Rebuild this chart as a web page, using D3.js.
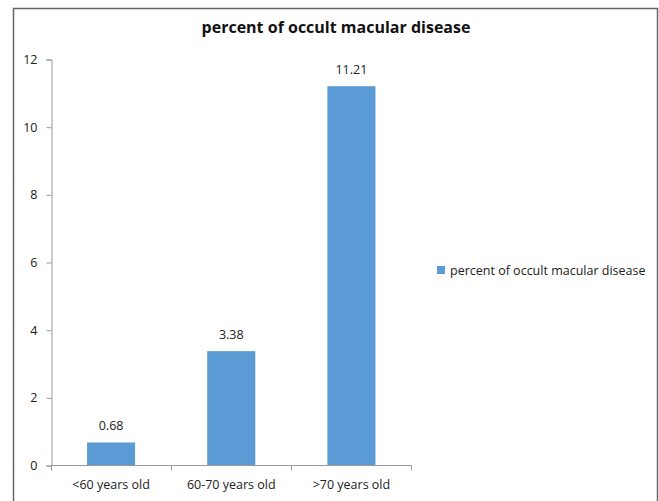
<!DOCTYPE html>
<html><head><meta charset="utf-8">
<script src="https://cdn.jsdelivr.net/npm/d3@7"></script>
<style>body{margin:0;background:#fff}svg{display:block}text{font-family:"Open Sans",sans-serif}</style>
</head><body>
<script>
const categories = ["<60 years old", "60-70 years old", ">70 years old"];
const values = [0.68, 3.38, 11.21];
const yTicks = [0, 2, 4, 6, 8, 10, 12];
const title = "percent of occult macular disease";
const seriesName = "percent of occult macular disease";

const W = 659, H = 501;
const svg = d3.select("body").append("svg").attr("width", W).attr("height", H);

// outer frame
svg.append("path").attr("d", "M13.5,501 V8.5 H657.5 V501")
  .attr("fill", "none").attr("stroke", "#666").attr("stroke-width", 1.5);

const x = d3.scaleBand().domain(categories).range([51, 411.5]).paddingInner(0.6).paddingOuter(0.3);
const y = d3.scaleLinear().domain([0, 12]).range([465.5, 59.5]);

// title
svg.append("text").attr("x", 336).attr("y", 33).attr("text-anchor", "middle")
  .attr("font-size", 16).attr("font-weight", "bold").attr("fill", "#111").text(title);

// y axis
const ya = svg.append("g").attr("transform", "translate(51.5,0)")
  .call(d3.axisLeft(y).tickValues(yTicks).tickSize(5).tickPadding(9));
ya.select(".domain").attr("stroke", "#999");
ya.selectAll(".tick line").attr("stroke", "#999");
ya.selectAll(".tick text").attr("font-size", 12.5).attr("fill", "#222").attr("font-family", "Open Sans, sans-serif");

// bars
svg.selectAll("rect.bar").data(values).enter().append("rect").attr("class", "bar")
  .attr("x", (d, i) => x(categories[i]))
  .attr("width", x.bandwidth())
  .attr("y", d => y(d))
  .attr("height", d => y(0) - y(d))
  .attr("fill", "#5B9BD5");

// value labels
svg.selectAll("text.val").data(values).enter().append("text").attr("class", "val")
  .attr("x", (d, i) => x(categories[i]) + x.bandwidth() / 2)
  .attr("y", d => y(d) - 12)
  .attr("text-anchor", "middle").attr("font-size", 12.5).attr("fill", "#222")
  .text(d => d.toFixed(2));

// x axis
const xPos = d3.scalePoint().domain(d3.range(categories.length + 1)).range([51.5, 411.5]);
const xa = svg.append("g").attr("transform", "translate(0,465.5)");
xa.append("line").attr("x1", 51.5).attr("x2", 411.5).attr("stroke", "#999");
xa.selectAll("line.tk").data(d3.range(categories.length + 1)).enter().append("line").attr("class", "tk")
  .attr("x1", d => xPos(d)).attr("x2", d => xPos(d)).attr("y1", 0).attr("y2", 5).attr("stroke", "#999");
xa.selectAll("text").data(categories).enter().append("text")
  .attr("x", d => x(d) + x.bandwidth() / 2).attr("y", 23)
  .attr("text-anchor", "middle").attr("font-size", 12.5).attr("fill", "#222").text(d => d);

// legend
const lg = svg.append("g").attr("transform", "translate(437,266)");
lg.append("rect").attr("width", 8).attr("height", 8).attr("fill", "#5B9BD5");
lg.append("text").attr("x", 13).attr("y", 8.5).attr("font-size", 12.5).attr("fill", "#222").text(seriesName);
</script>
</body></html>
